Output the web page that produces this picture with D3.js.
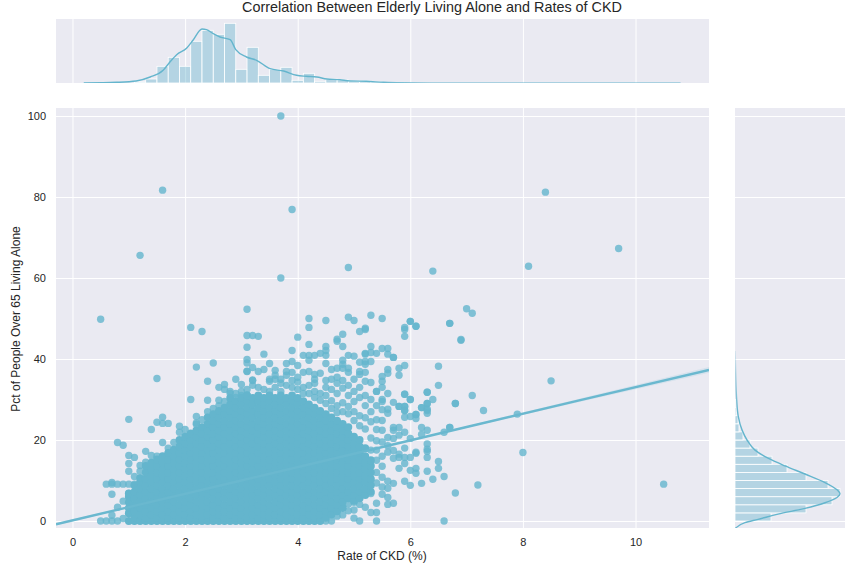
<!DOCTYPE html>
<html><head><meta charset="utf-8">
<script src="https://cdn.jsdelivr.net/npm/d3@7"></script>
<style>html,body{margin:0;padding:0;background:#fff}svg{display:block}
text{font-family:"Liberation Sans",Arial,sans-serif;fill:#262626}</style></head>
<body><svg id="c" width="864" height="576"></svg>
<script>
const titleText = "Correlation Between Elderly Living Alone and Rates of CKD";
const xLabel = "Rate of CKD (%)";
const yLabel = "Pct of People Over 65 Living Alone";
const xTicks = [0,2,4,6,8,10];
const yTicks = [0,20,40,60,80,100];

// Saturated core of the scatter: one list of y values per x value
const denseX = [1.0,1.1,1.2,1.3,1.4,1.5,1.6,1.7,1.8,1.9,2.0,2.1,2.2,2.3,2.4,2.5,2.6,2.7,2.8,2.9,3.0,3.1,3.2,3.3,3.4,3.5,3.6,3.7,3.8,3.9,4.0,4.1,4.2,4.3,4.4,4.5,4.6,4.7,4.8,4.9,5.0,5.1,5.2,5.3];
const denseY = [
[0,1.9,3.2,4.6,6,6.8],
[0,.8,2.4,4,5.6,7.2,8.8],
[0,1.6,3.2,4.8,6.4,8,9.6,10.6],
[0,.8,2.4,4,5.6,7.2,8.8,10.4,12,13.6],
[0,1.6,3.2,4.8,6.4,8,9.6,11.2,12.8,14.4],
[0,.8,2.4,4,5.6,7.2,8.8,10.4,12,13.6,15.2],
[0,1.6,3.2,4.8,6.4,8,9.6,11.2,12.8,14.4,16],
[0,.8,2.4,4,5.6,7.2,8.8,10.4,12,13.6,15.2,16.8],
[0,1.6,3.2,4.8,6.4,8,9.6,11.2,12.8,14.4,16,17.6],
[0,.8,2.4,4,5.6,7.2,8.8,10.4,12,13.6,15.2,16.8,18.4,20],
[0,1.6,3.2,4.8,6.4,8,9.6,11.2,12.8,14.4,16,17.6,19.2,20.8],
[0,.8,2.4,4,5.6,7.2,8.8,10.4,12,13.6,15.2,16.8,18.4,20,21.6],
[0,1.6,3.2,4.8,6.4,8,9.6,11.2,12.8,14.4,16,17.6,19.2,20.8,22.4],
[0,.8,2.4,4,5.6,7.2,8.8,10.4,12,13.6,15.2,16.8,18.4,20,21.6,23.2],
[0,1.6,3.2,4.8,6.4,8,9.6,11.2,12.8,14.4,16,17.6,19.2,20.8,22.4,24,25.6],
[0,.8,2.4,4,5.6,7.2,8.8,10.4,12,13.6,15.2,16.8,18.4,20,21.6,23.2,24.8,26.4],
[0,1.6,3.2,4.8,6.4,8,9.6,11.2,12.8,14.4,16,17.6,19.2,20.8,22.4,24,25.6,27.2],
[0,.8,2.4,4,5.6,7.2,8.8,10.4,12,13.6,15.2,16.8,18.4,20,21.6,23.2,24.8,26.4,28],
[0,1.6,3.2,4.8,6.4,8,9.6,11.2,12.8,14.4,16,17.6,19.2,20.8,22.4,24,25.6,27.2,28.8,30.4],
[0,.8,2.4,4,5.6,7.2,8.8,10.4,12,13.6,15.2,16.8,18.4,20,21.6,23.2,24.8,26.4,28,29.6],
[0,1.6,3.2,4.8,6.4,8,9.6,11.2,12.8,14.4,16,17.6,19.2,20.8,22.4,24,25.6,27.2,28.8,30.4],
[0,.8,2.4,4,5.6,7.2,8.8,10.4,12,13.6,15.2,16.8,18.4,20,21.6,23.2,24.8,26.4,28,29.6,31],
[0,1.6,3.2,4.8,6.4,8,9.6,11.2,12.8,14.4,16,17.6,19.2,20.8,22.4,24,25.6,27.2,28.8,30.4],
[0,.8,2.4,4,5.6,7.2,8.8,10.4,12,13.6,15.2,16.8,18.4,20,21.6,23.2,24.8,26.4,28,29.6,31],
[0,1.6,3.2,4.8,6.4,8,9.6,11.2,12.8,14.4,16,17.6,19.2,20.8,22.4,24,25.6,27.2,28.8,30.4],
[0,.8,2.4,4,5.6,7.2,8.8,10.4,12,13.6,15.2,16.8,18.4,20,21.6,23.2,24.8,26.4,28,29.6,31],
[0,1.6,3.2,4.8,6.4,8,9.6,11.2,12.8,14.4,16,17.6,19.2,20.8,22.4,24,25.6,27.2,28.8,30.4],
[0,.8,2.4,4,5.6,7.2,8.8,10.4,12,13.6,15.2,16.8,18.4,20,21.6,23.2,24.8,26.4,28,29.6,31],
[0,1.6,3.2,4.8,6.4,8,9.6,11.2,12.8,14.4,16,17.6,19.2,20.8,22.4,24,25.6,27.2,28.8,30.4],
[0,.8,2.4,4,5.6,7.2,8.8,10.4,12,13.6,15.2,16.8,18.4,20,21.6,23.2,24.8,26.4,28,29.6,31],
[0,1.6,3.2,4.8,6.4,8,9.6,11.2,12.8,14.4,16,17.6,19.2,20.8,22.4,24,25.6,27.2,28.8,30.4],
[0,.8,2.4,4,5.6,7.2,8.8,10.4,12,13.6,15.2,16.8,18.4,20,21.6,23.2,24.8,26.4,28,29.6],
[0,1.6,3.2,4.8,6.4,8,9.6,11.2,12.8,14.4,16,17.6,19.2,20.8,22.4,24,25.6,27.2,28.8],
[0,.8,2.4,4,5.6,7.2,8.8,10.4,12,13.6,15.2,16.8,18.4,20,21.6,23.2,24.8,26.4,28],
[0,1.6,3.2,4.8,6.4,8,9.6,11.2,12.8,14.4,16,17.6,19.2,20.8,22.4,24,25.6,27.2],
[.8,2.4,4,5.6,7.2,8.8,10.4,12,13.6,15.2,16.8,18.4,20,21.6,23.2,24.8,26.4],
[1.6,3.2,4.8,6.4,8,9.6,11.2,12.8,14.4,16,17.6,19.2,20.8,22.4,24,25.6],
[2.4,4,5.6,7.2,8.8,10.4,12,13.6,15.2,16.8,18.4,20,21.6,23.2,24.8],
[3.2,4.8,6.4,8,9.6,11.2,12.8,14.4,16,17.6,19.2,20.8,22.4,24],
[5.6,7.2,8.8,10.4,12,13.6,15.2,16.8,18.4,20,21.6,23.2],
[5,6.4,8,9.6,11.2,12.8,14.4,16,17.6,19.2,20.8],
[5.6,7.2,8.8,10.4,12,13.6,15.2,16.8,18.4,20],
[6.4,8,9.6,11.2,12.8,14.4,16,18],
[7.2,8.8,10.4,12,13.6,15]
];

// Individually readable points
const sparseX = [0.5,1.6,3.7,3.9,1.2,3.7,8.4,9.7,8.1,6.4,4.9,7.0,7.1,6.9,6.7,8.5,7.9,8.0,10.5,7.2,6.8,6.6,
3.1,4.2,4.2,4.5,4.9,5.0,5.3,5.5,6.0,6.1,5.9,5.9,5.9,5.2,5.2,5.1,4.8,4.7,4.7,4.0,3.2,3.3,3.1,3.4,3.9,4.2,4.5,4.5,4.5,4.8,5.3,5.3,5.2,5.2,5.4,5.6,5.6,5.7,4.9,5.0,4.4,4.3,4.2,4.1,4.2,4.8,4.8,5.1,5.2,5.3,5.2,4.5,3.1,3.2,3.1,3.3,3.4,3.5,3.8,3.9,4.0,3.8,3.9,4.1,4.2,4.4,4.3,4.3,4.6,4.7,4.8,4.9,4.9,5.1,5.2,5.6,5.6,5.8,5.9,5.8,5.5,3.6,3.6,3.2,3.5,3.6,3.7,3.8,3.9,4.0,4.5,4.6,4.7,4.8,5.0,5.1,5.2,5.3,5.5,5.5,5.6,5.4,5.9,6.0,6.3,5.7,5.5,5.8,5.9,6.2,6.3,6.3,5.6,5.6,5.9,6.0,6.1,5.9,
6.8,7.3,6.7,6.6,6.3,6.2,6.2,5.9,5.8,5.7,5.7,5.5,5.4,6.0,5.8,5.7,5.9,6.3,6.3,6.3,6.1,6.3,6.1,6.5,6.5,6.0,5.9,5.9,5.8,5.8,5.8,5.7,5.7,5.6,6.0,6.1,6.1,6.3,6.6,6.4,6.2,5.9,6.0,5.7,5.6,5.6,5.6,5.6,5.7,5.5,5.4,5.4,5.3,5.2,5.1,5.0,5.0,5.1,5.4,4.7,4.8,4.9,4.6,
1.0,1.4,1.5,1.6,1.6,1.7,1.9,1.9,2.0,2.2,2.2,0.8,0.9,1.0,1.1,1.0,1.0,1.3,1.4,1.5,1.6,1.7,1.8,1.2,1.3,1.2,1.1,0.6,0.7,0.7,0.8,0.9,1.0,1.1,0.7,0.9,1.0,1.1,0.8,0.7,0.5,0.6,0.7,0.8,0.9,1.0,
2.1,2.3,3.1,1.5,2.2,2.5,2.4,2.6,2.7,2.7,2.9,3.0,3.1,3.1,3.2,2.8,2.1,2.4,2.6,3.1,3.0,2.9,
6.7,6.9,6.5,6.5,6.0,6.1,6.3,6.4,6.3,7.1,6.8,6.7,6.0,5.9,5.8,5.9,5.9,6.2,6.3,6.3,6.1,6.1,5.5,5.7,
3.0,3.1,3.2,3.3,3.4,3.5,3.6,3.7,3.8,3.9,4.0,4.1,4.2,4.3,4.4,4.5,4.6,4.7,4.7,4.8,4.9,4.9,5.0,5.0,5.1,5.1,5.2,5.2,5.3,5.3,5.4,5.4,5.5,5.5,5.5,5.0,5.1,5.2,5.3,5.4,5.0,5.1,5.2,5.3,5.4,5.5,5.6,5.6,5.4,5.3,5.5,5.4,5.5,5.4,5.5,5.4,5.3,5.5,4.9,4.9,4.8,4.8,4.7,4.7,4.6,4.6,4.5,4.5,4.4,4.3,4.2,4.1,5.0,4.9,4.9,4.8,4.7,4.6,4.5,3.5,3.7,4.0,4.3,2.9,2.7,2.8,2.6,2.5,2.3,2.2,2.4];
const sparseY = [49.8,81.7,100,76.9,65.6,60,81.2,67.3,62.9,61.7,62.6,52.4,51.3,44.8,48.8,34.6,26.4,16.9,9.1,8.9,6.9,0,
52.3,50.0,47.8,49.5,50.3,49.5,50.8,50.0,49.3,48.1,47.8,47.3,45.6,47.6,47.3,46.8,46.1,44.9,44.4,45.4,45.8,45.6,42.9,41.2,42.1,43.6,43.1,42.1,40.9,43.1,43.1,41.6,41.4,41.2,41.4,42.6,41.2,40.4,40.9,40.7,41.4,40.9,40.9,40.9,39.7,39.7,38.7,39.2,39.4,39.4,38.7,38.9,39.9,37.9,36.9,36.9,37.4,38.9,38.9,39.4,38.4,36.9,36.7,36.7,36.9,36.5,36.2,35.0,37.4,37.7,37.7,37.7,36.7,36.9,36.7,37.4,36.5,37.7,38.4,36.0,35.7,37.2,36.0,34.7,35.0,35.0,35.0,36.0,34.7,35.5,34.7,35.0,35.5,34.7,35.0,36.2,34.5,34.2,34.5,33.0,31.5,32.0,31.3,30.0,31.8,29.3,29.5,28.3,28.3,28.0,29.0,27.3,27.6,26.6,27.3,25.8,26.3,25.6,
29,27.3,23.1,21.9,22.4,23.1,21.4,21.9,23.1,22.4,23.1,22.4,22.6,20.4,21.2,20.4,18,19,17.7,17.2,17,15.7,16.7,14.7,13,15.7,15.7,14.2,16.5,15.7,13,15.5,17.4,17,12.5,13,11.8,12.3,11,10.3,9.3,9.8,8.8,9.3,9.8,8.1,5.8,4.1,4.4,6.6,4.4,2.1,2.1,3.4,4.1,4.6,0.7,0,0,3.1,3.5,5.6,1.9,
25.1,22.6,24.4,25.6,24.1,24.1,23.4,21.9,22.6,25.8,23.9,19.4,18.7,16.2,15.7,14.2,12.3,17.2,16.2,16,19.4,18,19.4,13.7,14.5,12.3,11,9.1,9.5,9.1,9.1,9.1,9.1,9.1,6.6,4.9,6.8,5.6,3.4,1.4,0,0,0,0,.6,1.9,
47.8,46.8,45.8,35.2,38,39,34.5,33,33.7,32.5,35,33.7,39,37,34.8,31.5,30,29.8,29.8,31.1,31,30.5,
48.8,44.6,38.2,33.5,49.3,48.1,31.8,30,29,31,29,23.1,30,31.3,28.3,28.3,27.3,28,27.6,26.6,26.3,25.3,42.6,40.4,
32,32.5,33.5,33,32.5,32,33,32,33.5,33,32.5,33,33.5,32,31.5,33,32.5,34,31.5,32.8,33.5,31,32,29.5,33,30.5,31,28.5,30,27,32,28.5,30,27.5,24.8,27,26,25.5,24.5,25,24.8,23.5,22.7,20.5,19.8,19.5,20.6,18.6,17.5,17.5,16,15,13.5,12,10.8,9.4,6.8,8.4,26.5,28.3,27,29.2,28.5,26.8,29.7,27.8,29,31,29.8,30.5,31.5,31.5,2.7,2.5,4.2,1.5,1.2,0,0,34.5,34,34.3,34,31.5,29.5,32,28.5,27.8,25,24.2,27];

// Regression line and its confidence band
const regX = [-0.293,1,3,5,7,9,11.305];
const regY = [-0.8,3.44,10,16.6,23.2,29.8,37.3];
const regLo = [-1.1,3.3,9.9,16.5,23,29.4,36.6];
const regHi = [-0.5,3.6,10.1,16.7,23.4,30.2,38];

// Top histogram and density
const topBinStart = [1.1,1.3,1.5,1.7,1.9,2.1,2.3,2.5,2.7,2.9,3.1,3.3,3.5,3.7,3.9,4.1,4.3,4.5,4.7,4.9,5.1,5.3,5.5,5.7];
const topBinEnd   = [1.3,1.5,1.7,1.9,2.1,2.3,2.5,2.7,2.9,3.1,3.3,3.5,3.7,3.9,4.1,4.3,4.5,4.7,4.9,5.1,5.3,5.5,5.7,5.9];
const topBinValue = [1,4,16.7,25.7,16.7,41.7,52.7,48.7,59.7,13.7,35.7,7.7,13.7,15.7,2.7,9.7,1.7,4,3,1.7,2,1.2,0.6,0.4];
const topKdeX = [0.2,0.785,1.13,1.38,1.61,1.73,1.85,2.03,2.14,2.30,2.38,2.50,2.62,2.80,2.90,3.09,3.27,3.51,3.75,3.98,4.15,4.34,4.52,4.75,4.93,5.22,5.52,5.82,6.7,10.8];
const topKdeY = [0,0.7,2,6,12.7,21,28.3,35,42.7,54,53.3,49.3,46,43.3,33.3,26,22.7,14.3,12,7.7,6.7,6,4,3.3,2,1.7,0.7,0.2,0.05,0];

// Right histogram and density
const rightBinStart = [0,2,4,6,8,10,12,14,16,18,20,22,24,26,28];
const rightBinEnd   = [2,4,6,8,10,12,14,16,18,20,22,24,26,28,30];
const rightBinValue = [36,71,97,105,93,71,52,37,23,15,8,4,3,1,0.5];
const rightKdeY = [-1.9,-0.4,0.4,1.7,3.1,4.5,5.8,6.7,7.7,9.5,11.6,13.6,15.5,17.5,20,22.5,25.8,29.9,36.5,42];
const rightKdeX = [0,10,23,43,70,90,102,105,102,90,70,50,33,20,12,7,3.3,1.7,0.7,0.2];

const color = "#64B5CD", panel = "#EAEAF2";
const svg = d3.select("#c");
const x = d3.scaleLinear().domain([-0.293,11.305]).range([56,709]);
const y = d3.scaleLinear().domain([-1.73,101.98]).range([528,108]);
const topY = d3.scaleLinear().domain([0,64]).range([83,19]);
const rightX = d3.scaleLinear().domain([0,110]).range([735,845]);

function panelRect(a,b,c,d){svg.append("rect").attr("x",a).attr("y",b).attr("width",c-a).attr("height",d-b).attr("fill",panel);}
panelRect(56,108,709,528); panelRect(56,19,709,83); panelRect(735,108,845,528);

const defs = svg.append("defs");
[["mainClip",56,108,653,420],["topClip",56,19,653,64],["rightClip",735,108,110,420]].forEach(c=>{
  defs.append("clipPath").attr("id",c[0]).append("rect").attr("x",c[1]).attr("y",c[2]).attr("width",c[3]).attr("height",c[4]);
});
function fade(id,x1,y1,x2,y2,endOpacity){
  const g = defs.append("linearGradient").attr("id",id).attr("gradientUnits","userSpaceOnUse")
    .attr("x1",x1).attr("y1",y1).attr("x2",x2).attr("y2",y2);
  g.append("stop").attr("offset",0).attr("stop-color",color);
  g.append("stop").attr("offset",1).attr("stop-color",color).attr("stop-opacity",endOpacity);
}
fade("topFade",x(5.4),0,x(6.4),0,.65);
fade("rightFade",0,y(27),0,y(43),.1);

function styleAxis(g,labels){
  g.select(".domain").remove();
  g.selectAll(".tick line").attr("stroke","#fff").attr("stroke-width",1);
  if(labels){g.selectAll(".tick text").attr("font-size",11).attr("fill","#262626");}
  else{g.selectAll(".tick text").remove();}
}
svg.append("g").attr("transform","translate(0,528)")
  .call(d3.axisBottom(x).tickValues(xTicks).tickFormat(d3.format("d")).tickSize(-420).tickPadding(10))
  .call(g=>styleAxis(g,true));
svg.append("g").attr("transform","translate(56,0)")
  .call(d3.axisLeft(y).tickValues(yTicks).tickFormat(d3.format("d")).tickSize(-653).tickPadding(10))
  .call(g=>styleAxis(g,true));
svg.append("g").attr("transform","translate(0,83)")
  .call(d3.axisBottom(x).tickValues(xTicks).tickSize(-64)).call(g=>styleAxis(g,false));
svg.append("g").attr("transform","translate(735,0)")
  .call(d3.axisLeft(y).tickValues(yTicks).tickSize(-110)).call(g=>styleAxis(g,false));

// Scatter
const main = svg.append("g").attr("clip-path","url(#mainClip)");
const densePts = denseX.flatMap((v,i)=>denseY[i].map(w=>[v,w]));
const sparsePts = sparseX.map((v,i)=>[v,sparseY[i]]);
main.append("g").selectAll("circle").data(sparsePts).join("circle")
  .attr("cx",d=>x(d[0])).attr("cy",d=>y(d[1])).attr("r",3.7).attr("fill",color).attr("fill-opacity",.8);
main.append("g").selectAll("circle").data(densePts).join("circle")
  .attr("cx",d=>x(d[0])).attr("cy",d=>y(d[1])).attr("r",3.9).attr("fill",color);
main.append("path").datum(regX.map((v,i)=>[v,regLo[i],regHi[i]]))
  .attr("d",d3.area().x(d=>x(d[0])).y0(d=>y(d[1])).y1(d=>y(d[2])))
  .attr("fill",color).attr("fill-opacity",.15);
main.append("path").datum(regX.map((v,i)=>[v,regY[i]]))
  .attr("d",d3.line().x(d=>x(d[0])).y(d=>y(d[1])))
  .attr("fill","none").attr("stroke","#6ab8cf").attr("stroke-width",2.4);

// Top marginal
const topG = svg.append("g").attr("clip-path","url(#topClip)");
topG.selectAll("rect").data(topBinValue).join("rect")
  .attr("x",(d,i)=>x(topBinStart[i])).attr("width",(d,i)=>x(topBinEnd[i])-x(topBinStart[i]))
  .attr("y",d=>topY(d)).attr("height",d=>topY(0)-topY(d))
  .attr("fill",color).attr("fill-opacity",.4).attr("stroke","#fff").attr("stroke-width",.8);
topG.append("path").datum(topKdeX.map((v,i)=>[v,topKdeY[i]]))
  .attr("d",d3.line().curve(d3.curveMonotoneX).x(d=>x(d[0])).y(d=>topY(d[1])))
  .attr("fill","none").attr("stroke","url(#topFade)").attr("stroke-width",1.4);

// Right marginal
const rightG = svg.append("g").attr("clip-path","url(#rightClip)");
rightG.selectAll("rect").data(rightBinValue).join("rect")
  .attr("x",rightX(0)).attr("width",d=>rightX(d)-rightX(0))
  .attr("y",(d,i)=>y(rightBinEnd[i])).attr("height",(d,i)=>y(rightBinStart[i])-y(rightBinEnd[i]))
  .attr("fill",color).attr("fill-opacity",.4).attr("stroke","#fff").attr("stroke-width",.8);
rightG.append("path").datum(rightKdeY.map((v,i)=>[rightKdeX[i],v]))
  .attr("d",d3.line().curve(d3.curveMonotoneY).x(d=>rightX(d[0])).y(d=>y(d[1])))
  .attr("fill","none").attr("stroke","url(#rightFade)").attr("stroke-width",1.4);

// Text
svg.append("text").attr("x",432).attr("y",12).attr("text-anchor","middle").attr("font-size",14.4).text(titleText);
svg.append("text").attr("x",382).attr("y",560).attr("text-anchor","middle").attr("font-size",12).text(xLabel);
svg.append("text").attr("transform","translate(20,319) rotate(-90)").attr("text-anchor","middle").attr("font-size",12).text(yLabel);
</script></body></html>
